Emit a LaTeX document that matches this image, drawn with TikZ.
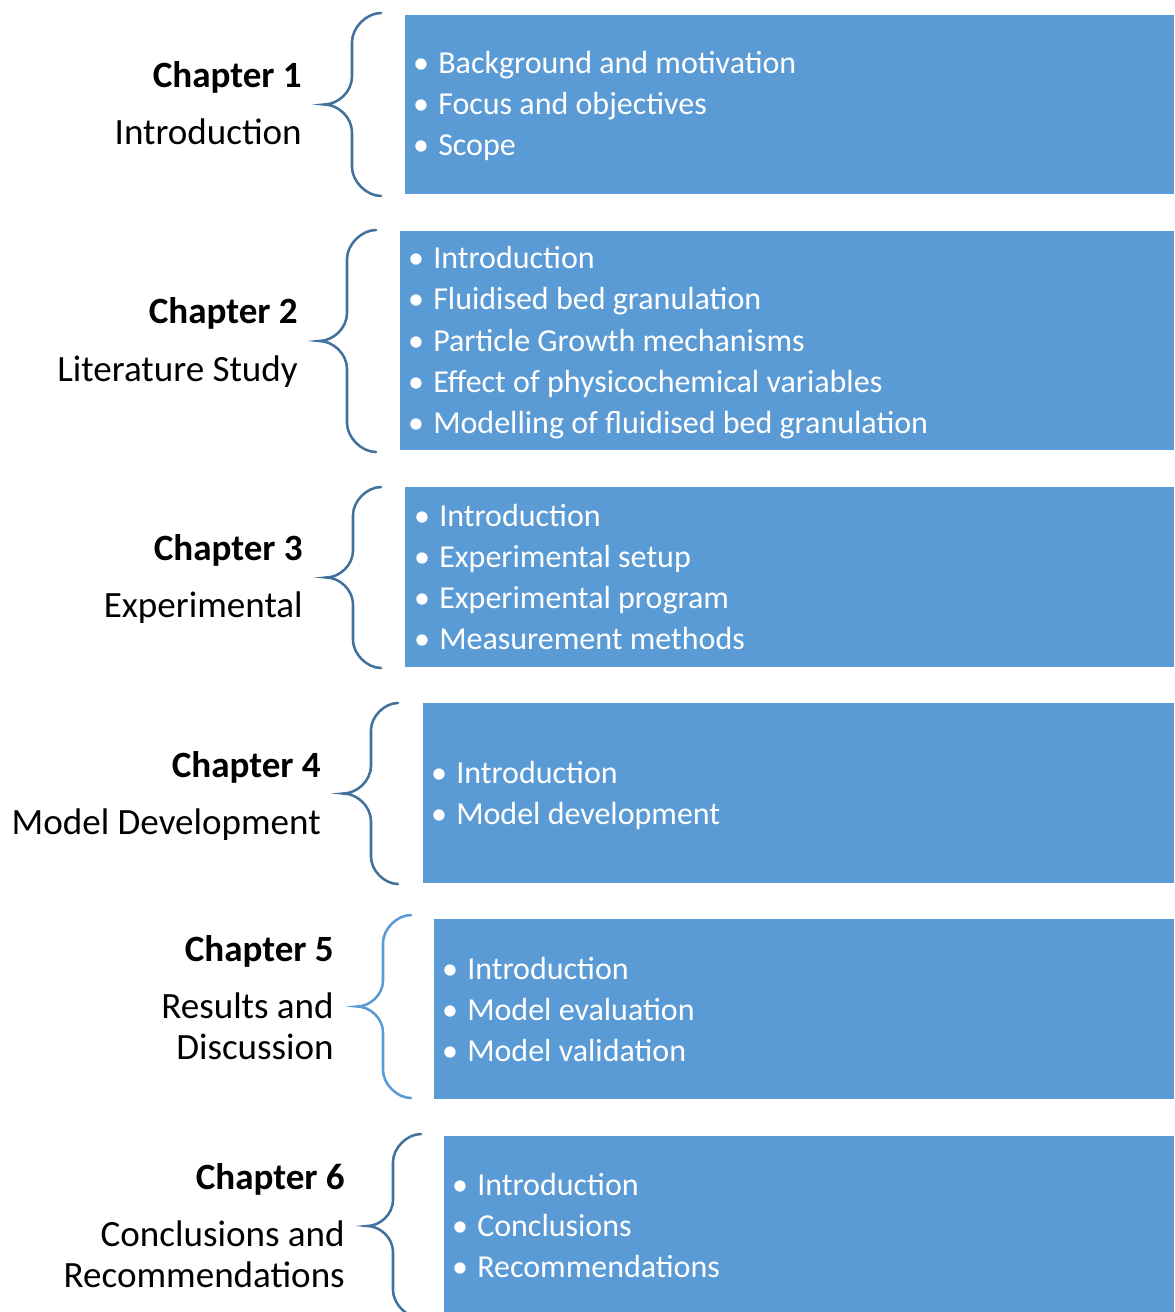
\documentclass[tikz,border=0pt]{standalone}
\usepackage{fontspec}
\setmainfont{Carlito}
\definecolor{boxblue}{HTML}{5B9BD5}
\definecolor{bracedark}{HTML}{41719C}
\tikzset{
  chapbox/.style={fill=boxblue, draw=none},
  bracestyle/.style={line width=1.9pt, line cap=round},
  item/.style={anchor=base west, inner sep=0pt, text=white, font=\fontsize{24}{29}\selectfont},
  bul/.style={anchor=base, inner sep=0pt, text=white, font=\fontsize{24}{29}\selectfont},
  lab/.style={anchor=base east, inner sep=0pt, text=black, font=\fontsize{27.8}{33}\selectfont},
  labb/.style={anchor=base east, inner sep=0pt, text=black, font=\fontsize{27.8}{33}\selectfont\bfseries},
}
\newcommand\drawbrace[6]{%
  \pgfmathsetmacro\bM{(#5+#6)/2}%
  \pgfmathsetmacro\bR{#2-#3}%
  \pgfmathsetmacro\bT{#3-#4}%
  \draw[bracestyle,draw=#1] (#2,#5) .. controls ({#3+0.5*\bR},#5) and (#3,{#5+0.5*\bR}) .. (#3,{#5+\bR})
    -- (#3,{\bM-\bT}) .. controls (#3,{\bM-0.45*\bT}) and ({#4+0.5*\bT},\bM) .. (#4,\bM)
    .. controls ({#4+0.5*\bT},\bM) and (#3,{\bM+0.45*\bT}) .. (#3,{\bM+\bT})
    -- (#3,{#6-\bR}) .. controls (#3,{#6-0.5*\bR}) and ({#3+0.5*\bR},#6) .. (#2,#6);%
}
\begin{document}
\begin{tikzpicture}[x=0.75pt,y=-0.75pt]
\useasboundingbox (0,0) rectangle (1174,1312);
\begin{scope}
\clip (0,0) rectangle (1174,1312);
% boxes
\path[chapbox] (405,15) rectangle (1174,194) node[pos=0.5,inner sep=0pt] (box1) {};
\path[chapbox] (400,231) rectangle (1174,450) node[pos=0.5,inner sep=0pt] (box2) {};
\path[chapbox] (405,487) rectangle (1174,667) node[pos=0.5,inner sep=0pt] (box3) {};
\path[chapbox] (423,703) rectangle (1174,883) node[pos=0.5,inner sep=0pt] (box4) {};
\path[chapbox] (434,919) rectangle (1174,1099) node[pos=0.5,inner sep=0pt] (box5) {};
\path[chapbox] (444,1136) rectangle (1174,1320) node[pos=0.5,inner sep=0pt] (box6) {};
% braces
\drawbrace{bracedark}{381}{352}{324}{13}{196}
\drawbrace{bracedark}{376}{347}{319}{230}{452}
\drawbrace{bracedark}{381}{353}{326}{487}{668}
\drawbrace{bracedark}{398}{371}{343}{703}{884}
\drawbrace{boxblue}{411}{383}{357}{915}{1098}
\drawbrace{bracedark}{421}{393}{367}{1134}{1318}
\end{scope}
% labels
\node[labb] (c1) at (302,88) {Chapter 1};
\node[lab] (t1) at (302,145) {Introduction};
\node[labb] (c2) at (298,324) {Chapter 2};
\node[lab] (t2) at (298,381) {Literature Study};
\node[labb] (c3) at (303,560) {Chapter 3};
\node[lab] (t3) at (303,617) {Experimental};
\node[labb] (c4) at (321,777) {Chapter 4};
\node[lab] (t4) at (321,834) {Model Development};
\node[labb] (c5) at (334,961) {Chapter 5};
\node[lab] (t5a) at (334,1018) {Results and};
\node[lab] (t5b) at (334,1059) {Discussion};
\node[labb] (c6) at (345,1189) {Chapter 6};
\node[lab] (t6a) at (345,1246) {Conclusions and};
\node[lab] (t6b) at (345,1287) {Recommendations};
% items
\foreach \t [count=\i] in {Background and motivation, Focus and objectives, Scope}{
  \node[bul] (bb1-\i) at (421,{74+41*(\i-1)}) {•};
  \node[item] (it1-\i) at (438,{74+41*(\i-1)}) {\t};
}
\foreach \t [count=\i] in {Introduction, Fluidised bed granulation, Particle Growth mechanisms, Effect of physicochemical variables, Modelling of fluidised bed granulation}{
  \node[bul] (bb2-\i) at (416,{269+41*(\i-1)}) {•};
  \node[item] (it2-\i) at (433,{269+41*(\i-1)}) {\t};
}
\foreach \t [count=\i] in {Introduction, Experimental setup, Experimental program, Measurement methods}{
  \node[bul] (bb3-\i) at (422,{526+41*(\i-1)}) {•};
  \node[item] (it3-\i) at (439,{526+41*(\i-1)}) {\t};
}
\foreach \t [count=\i] in {Introduction, Model development}{
  \node[bul] (bb4-\i) at (439,{783+41*(\i-1)}) {•};
  \node[item] (it4-\i) at (456,{783+41*(\i-1)}) {\t};
}
\foreach \t [count=\i] in {Introduction, Model evaluation, Model validation}{
  \node[bul] (bb5-\i) at (450,{979+41*(\i-1)}) {•};
  \node[item] (it5-\i) at (467,{979+41*(\i-1)}) {\t};
}
\foreach \t [count=\i] in {Introduction, Conclusions, Recommendations}{
  \node[bul] (bb6-\i) at (460,{1195+41*(\i-1)}) {•};
  \node[item] (it6-\i) at (477,{1195+41*(\i-1)}) {\t};
}
\end{tikzpicture}
\end{document}
